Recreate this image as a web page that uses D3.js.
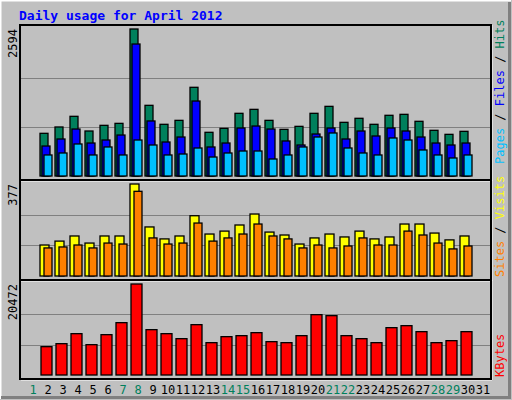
<!DOCTYPE html>
<html><head><meta charset="utf-8">
<script src="https://cdn.jsdelivr.net/npm/d3@7"></script>
<style>body{margin:0;background:#fff}text{font-family:"DejaVu Sans Mono",monospace}</style>
</head><body><div id="chart"></div>
<script>
const days = d3.range(1, 32);
const weekend = [1, 7, 8, 14, 15, 21, 22, 28, 29];
// days 2..30 carry data, day 1 and 31 are empty
const hits = [0,753,865,1053,794,894,929,2594,1247,912,982,1565,771,841,1106,1176,982,823,876,1106,1229,947,1018,912,1071,1088,965,806,735,788,0];
const files = [0,529,653,829,582,635,723,2329,971,600,688,1323,512,582,847,882,829,618,547,741,847,653,794,706,847,794,688,582,547,582,0];
const pages = [0,371,406,565,371,512,371,635,547,371,388,494,335,406,441,441,300,371,512,688,759,494,406,371,671,635,459,371,318,371,0];
const visits = [0,127,143,164,135,164,164,377,201,152,164,247,172,184,209,254,180,168,131,156,172,160,184,152,160,213,213,176,148,164,0];
const sites = [0,115,119,127,115,135,131,347,156,131,135,217,143,156,172,213,164,152,115,127,115,123,156,127,127,184,168,135,111,123,0];
const kbytes = [0,6375,7050,9300,6825,9075,11775,20472,10200,9300,8175,11325,7275,8625,8850,9525,7500,7275,8850,13575,13350,8850,8175,7275,10650,11100,9750,7275,7725,9750,0];

const W = 512, H = 400, L = 20, R = 491;
const svg = d3.select("#chart").append("svg").attr("width", W).attr("height", H);
svg.append("rect").attr("width", W).attr("height", H).attr("fill", "#c0c0c0");
svg.append("path").attr("d", "M0.5,399V0.5H511").attr("stroke", "#fff").attr("stroke-width", 2).attr("fill", "none");
svg.append("path").attr("d", "M1,397.5H509.5V2").attr("stroke", "#808080").attr("stroke-width", 3).attr("fill", "none");
svg.append("text").attr("x", 19).attr("y", 20).attr("fill", "#0000ff").attr("font-size", 13).attr("font-weight", "bold")
  .text("Daily usage for April 2012");

const x = d3.scaleBand().domain(days).range([25, 25 + 15 * 31]);

function panel(top, bottom, base, maxTop, maxVal, series) {
  svg.append("path").attr("d", `M${L + 1},${bottom + 1}H${R + 1}V${top}`).attr("stroke", "#fff").attr("fill", "none");
  svg.append("rect").attr("x", L).attr("y", top).attr("width", R - L).attr("height", bottom - top)
    .attr("fill", "none").attr("stroke", "#000").attr("stroke-width", 2);
  const y = d3.scaleLinear().domain([0, maxVal]).range([base, maxTop]);
  [1 / 3, 2 / 3].forEach(f => svg.append("line").attr("x1", L + 1).attr("x2", R - 1)
    .attr("y1", Math.round(y(maxVal * f)) + 0.5).attr("y2", Math.round(y(maxVal * f)) + 0.5).attr("stroke", "#808080"));
  series.forEach(s => {
    svg.append("g").selectAll("rect").data(s.data.map((v, i) => ({ d: days[i], v })).filter(o => o.v > 0))
      .join("rect")
      .attr("x", o => x(o.d) + s.off).attr("width", s.w)
      .attr("y", o => y(o.v)).attr("height", o => base - y(o.v))
      .attr("fill", s.color).attr("stroke", "#000").attr("stroke-width", 1.3);
  });
  svg.append("text").attr("transform", `translate(17,${maxTop}) rotate(-90)`).attr("text-anchor", "end")
    .attr("font-size", 12).attr("fill", "#000").text(d3.max(series[0].data));
}

panel(25, 180, 176, 29, 2594, [
  { data: hits, color: "#00805c", off: 0, w: 8 },
  { data: files, color: "#0000ff", off: 2, w: 8 },
  { data: pages, color: "#00c0ff", off: 4, w: 8 }
]);
panel(180, 280, 276, 184, 377, [
  { data: visits, color: "#ffff00", off: 0, w: 9 },
  { data: sites, color: "#ff8000", off: 4, w: 8 }
]);
panel(280, 379, 375, 284, 20472, [
  { data: kbytes, color: "#ff0000", off: 1, w: 11 }
]);

function rlabel(yBottom, parts) {
  const t = svg.append("text").attr("transform", `translate(500,${yBottom}) rotate(-90)`)
    .attr("font-size", 12).attr("dy", "0.35em");
  parts.forEach((p, i) => {
    if (i) t.append("tspan").attr("fill", "#000").text(" / ");
    t.append("tspan").attr("fill", p[1]).text(p[0]);
  });
}
rlabel(164, [["Pages", "#00c0ff"], ["Files", "#0000ff"], ["Hits", "#00805c"]]);
rlabel(277, [["Sites", "#ff8000"], ["Visits", "#ffff00"]]);
rlabel(377, [["KBytes", "#ff0000"]]);

svg.append("g").selectAll("text").data(days).join("text")
  .attr("x", d => x(d) + 8).attr("y", 394).attr("text-anchor", "middle")
  .attr("font-family", "'Liberation Sans Narrow','DejaVu Sans Condensed',sans-serif").attr("font-size", 12)
  .attr("fill", d => weekend.includes(d) ? "#00805c" : "#000").text(d => d);
</script></body></html>
